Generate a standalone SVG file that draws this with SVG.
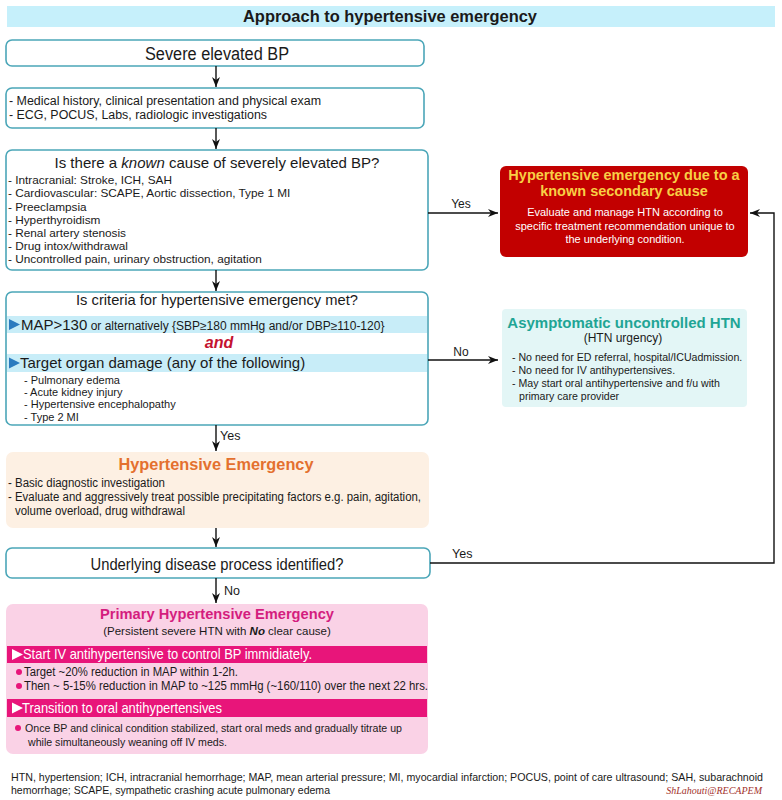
<svg xmlns="http://www.w3.org/2000/svg" width="782" height="800" viewBox="0 0 782 800">
<defs>
<marker id="ah" viewBox="0 0 10 8" refX="10" refY="4" markerWidth="10" markerHeight="8" markerUnits="userSpaceOnUse" orient="auto">
<path d="M0,0 L10,4 L0,8 L3,4 z" fill="#111"/>
</marker>
<style>
.n{font-family:"Liberation Sans Narrow","Liberation Sans",Arial,sans-serif;fill:#1a1a1a}
.s{font-family:"Liberation Sans",Arial,sans-serif;fill:#1a1a1a}
.box{fill:#fff;stroke:#4ba6b8;stroke-width:1.6}
.cn{fill:none;stroke:#111;stroke-width:1.4}
.band{fill:#c8edf8}
.mband{fill:#e8157a}
.dot{fill:#e8157a}
.tri{fill:#2b7bbf}
</style>
</defs>
<rect width="782" height="800" fill="#fff"/>

<g id="title">
<rect x="7" y="6" width="768" height="21" fill="#c6f0fb"/>
<text class="n" x="390" y="22" font-size="16.5" font-weight="bold" text-anchor="middle" textLength="294" lengthAdjust="spacingAndGlyphs">Approach to hypertensive emergency</text>
</g>

<g id="severe-bp">
<rect class="box" x="6" y="40" width="418" height="26" rx="6"/>
<text class="n" x="217" y="60" font-size="18" text-anchor="middle" textLength="144" lengthAdjust="spacingAndGlyphs">Severe elevated BP</text>
</g>

<g id="history">
<rect class="box" x="6" y="88" width="418" height="40" rx="6"/>
<text class="n" x="9" y="105" font-size="12.5" textLength="312" lengthAdjust="spacingAndGlyphs">- Medical history, clinical presentation and physical exam</text>
<text class="n" x="9" y="119" font-size="12.5" textLength="258" lengthAdjust="spacingAndGlyphs">- ECG, POCUS, Labs, radiologic investigations</text>
</g>

<g id="known-cause">
<rect class="box" x="6" y="150" width="422" height="120" rx="6"/>
<text class="s" x="217" y="168" font-size="15" text-anchor="middle" textLength="325" lengthAdjust="spacingAndGlyphs">Is there a <tspan font-style="italic">known</tspan> cause of severely elevated BP?</text>
<text class="s" x="8" y="184" font-size="11.8">- Intracranial: Stroke, ICH, SAH</text>
<text class="s" x="8" y="197" font-size="11.8">- Cardiovascular: SCAPE, Aortic dissection, Type 1 MI</text>
<text class="s" x="8" y="211" font-size="11.8">- Preeclampsia</text>
<text class="s" x="8" y="224" font-size="11.8">- Hyperthyroidism</text>
<text class="s" x="8" y="237" font-size="11.8">- Renal artery stenosis</text>
<text class="s" x="8" y="250" font-size="11.8">- Drug intox/withdrawal</text>
<text class="s" x="8" y="263" font-size="11.8">- Uncontrolled pain, urinary obstruction, agitation</text>
</g>

<g id="criteria">
<rect class="box" x="6" y="292" width="422" height="133" rx="6"/>
<text class="s" x="217" y="305" font-size="15" text-anchor="middle" textLength="282" lengthAdjust="spacingAndGlyphs">Is criteria for hypertensive emergency met?</text>
<rect class="band" x="7" y="316" width="420" height="17"/>
<polygon class="tri" points="9,319 20,324.5 9,330"/>
<text class="s" x="21" y="330" font-size="15">MAP&gt;130<tspan font-size="12"> or alternatively {SBP≥180 mmHg and/or DBP≥110-120}</tspan></text>
<text class="s" x="219" y="348" font-size="16" font-weight="bold" font-style="italic" text-anchor="middle" style="fill:#c4122f">and</text>
<rect class="band" x="7" y="354" width="420" height="18"/>
<polygon class="tri" points="9,357.5 20,363 9,368.5"/>
<text class="s" x="20" y="368" font-size="15">Target organ damage (any of the following)</text>
<text class="s" x="24" y="384" font-size="11">- Pulmonary edema</text>
<text class="s" x="24" y="396" font-size="11">- Acute kidney injury</text>
<text class="s" x="24" y="408" font-size="11">- Hypertensive encephalopathy</text>
<text class="s" x="24" y="421" font-size="11">- Type 2 MI</text>
</g>

<g id="secondary-cause">
<rect x="500" y="166" width="248" height="91" rx="6" fill="#c20000"/>
<text class="s" x="624" y="180" font-size="14.5" font-weight="bold" text-anchor="middle" style="fill:#f8cf45">Hypertensive emergency due to a</text>
<text class="s" x="624" y="196" font-size="14.5" font-weight="bold" text-anchor="middle" style="fill:#f8cf45">known secondary cause</text>
<text class="s" x="625" y="216" font-size="11" text-anchor="middle" style="fill:#fff">Evaluate and manage HTN according to</text>
<text class="s" x="625" y="230" font-size="11" text-anchor="middle" style="fill:#fff">specific treatment recommendation unique to</text>
<text class="s" x="625" y="243" font-size="11" text-anchor="middle" style="fill:#fff">the underlying condition.</text>
</g>

<g id="asymptomatic">
<rect x="502" y="309" width="245" height="98" rx="4" fill="#e3f6f6"/>
<text class="s" x="624" y="328" font-size="15" font-weight="bold" text-anchor="middle" style="fill:#1fa595">Asymptomatic uncontrolled HTN</text>
<text class="s" x="623" y="342" font-size="12" text-anchor="middle">(HTN urgency)</text>
<text class="s" x="512" y="361" font-size="10.6">- No need for ED referral, hospital/ICUadmission.</text>
<text class="s" x="512" y="374" font-size="10.6">- No need for IV antihypertensives.</text>
<text class="s" x="512" y="387" font-size="10.6">- May start oral antihypertensive and f/u with</text>
<text class="s" x="519" y="400" font-size="10.6">primary care provider</text>
</g>

<g id="htn-emergency">
<rect x="6" y="452" width="423" height="76" rx="7" fill="#fdf0e3"/>
<text class="s" x="216" y="470" font-size="16" font-weight="bold" text-anchor="middle" textLength="195" lengthAdjust="spacingAndGlyphs" style="fill:#e4702f">Hypertensive Emergency</text>
<text class="n" x="8" y="487" font-size="12" textLength="157" lengthAdjust="spacingAndGlyphs">- Basic diagnostic investigation</text>
<text class="n" x="8" y="501" font-size="12" textLength="413" lengthAdjust="spacingAndGlyphs">- Evaluate and aggressively treat possible precipitating factors e.g. pain, agitation,</text>
<text class="n" x="15" y="515" font-size="12" textLength="170" lengthAdjust="spacingAndGlyphs">volume overload, drug withdrawal</text>
</g>

<g id="underlying">
<rect class="box" x="6" y="548" width="424" height="30" rx="6"/>
<text class="n" x="217" y="570" font-size="16" text-anchor="middle" textLength="253" lengthAdjust="spacingAndGlyphs">Underlying disease process identified?</text>
</g>

<g id="primary">
<rect x="6" y="604" width="422" height="150" rx="7" fill="#fad2e6"/>
<text class="s" x="217" y="619" font-size="15" font-weight="bold" text-anchor="middle" textLength="234" lengthAdjust="spacingAndGlyphs" style="fill:#d41d7e">Primary Hypertensive Emergency</text>
<text class="s" x="217" y="635" font-size="11.5" text-anchor="middle">(Persistent severe HTN with <tspan font-weight="bold" font-style="italic">No</tspan> clear cause)</text>
<rect class="mband" x="7" y="646" width="420" height="17"/>
<polygon points="12,649 23,654.5 12,660" fill="#fff"/>
<text class="s" x="23" y="659" font-size="14.5" textLength="289" lengthAdjust="spacingAndGlyphs" style="fill:#fff">Start IV antihypertensive to control BP immidiately.</text>
<circle class="dot" cx="19" cy="672" r="3"/>
<text class="s" x="24" y="676" font-size="12" textLength="214" lengthAdjust="spacingAndGlyphs">Target ~20% reduction in MAP within 1-2h.</text>
<circle class="dot" cx="19" cy="686" r="3"/>
<text class="s" x="24" y="690" font-size="12" textLength="404" lengthAdjust="spacingAndGlyphs">Then ~ 5-15% reduction in MAP to ~125 mmHg (~160/110) over the next 22 hrs.</text>
<rect class="mband" x="7" y="699" width="420" height="18"/>
<polygon points="12,702.5 23,708 12,713.5" fill="#fff"/>
<text class="s" x="22" y="713" font-size="14.5" textLength="200" lengthAdjust="spacingAndGlyphs" style="fill:#fff">Transition to oral antihypertensives</text>
<circle class="dot" cx="18" cy="728" r="3"/>
<text class="s" x="25" y="732" font-size="11.5" textLength="377" lengthAdjust="spacingAndGlyphs">Once BP and clinical condition stabilized, start oral meds and gradually titrate up</text>
<text class="s" x="28" y="746" font-size="11.5" textLength="199" lengthAdjust="spacingAndGlyphs">while simultaneously weaning off IV meds.</text>
</g>

<g id="connectors">
<line class="cn" x1="216" y1="66" x2="216" y2="87" marker-end="url(#ah)"/>
<line class="cn" x1="216" y1="128" x2="216" y2="149" marker-end="url(#ah)"/>
<line class="cn" x1="216" y1="270" x2="216" y2="291" marker-end="url(#ah)"/>
<line class="cn" x1="216" y1="425" x2="216" y2="451" marker-end="url(#ah)"/>
<line class="cn" x1="216" y1="528" x2="216" y2="547" marker-end="url(#ah)"/>
<line class="cn" x1="216" y1="578" x2="216" y2="603" marker-end="url(#ah)"/>
<line class="cn" x1="428" y1="213" x2="498" y2="213" marker-end="url(#ah)"/>
<line class="cn" x1="428" y1="360" x2="498" y2="360" marker-end="url(#ah)"/>
<polyline class="cn" points="430,563 774,563 774,213 750,213" marker-end="url(#ah)"/>
<text class="s" x="461" y="208" font-size="12" text-anchor="middle">Yes</text>
<text class="s" x="461" y="356" font-size="12" text-anchor="middle">No</text>
<text class="n" x="220" y="440" font-size="12.5">Yes</text>
<text class="n" x="452" y="558" font-size="12.5">Yes</text>
<text class="n" x="224" y="595" font-size="12.5">No</text>
</g>

<g id="footer">
<text class="n" x="11" y="781" font-size="10.8" textLength="752" lengthAdjust="spacingAndGlyphs">HTN, hypertension; ICH, intracranial hemorrhage; MAP, mean arterial pressure; MI, myocardial infarction; POCUS, point of care ultrasound; SAH, subarachnoid</text>
<text class="n" x="11" y="794" font-size="10.8" textLength="319" lengthAdjust="spacingAndGlyphs">hemorrhage; SCAPE, sympathetic crashing acute pulmonary edema</text>
<text x="762" y="794" font-family="'Liberation Serif',serif" font-style="italic" font-size="10" text-anchor="end" fill="#a3322c">ShLahouti@RECAPEM</text>
</g>
</svg>
